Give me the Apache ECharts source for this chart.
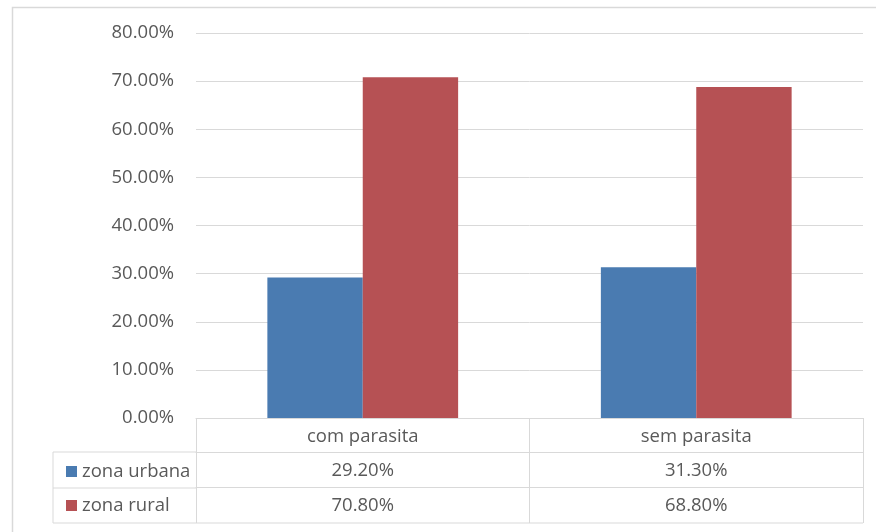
<!DOCTYPE html>
<html>
<head>
<meta charset="utf-8">
<script src="https://cdn.jsdelivr.net/npm/echarts@6/dist/echarts.min.js"></script>
<style>
  html, body { margin: 0; padding: 0; background: #fff; }
  #chart { width: 876px; height: 532px; }
</style>
</head>
<body>
<div id="chart"></div>
<script>
const categories = ['com parasita', 'sem parasita'];
const seriesNames = ['zona urbana', 'zona rural'];
const urbana = [29.2, 31.3];
const rural = [70.8, 68.8];
const colors = ['#4a7bb1', '#b65154'];

const font = 'Open Sans';
const fontSize = 18.5;
const textColor = '#595959';
const lineColor = '#d9d9d9';

// grid + table layout
const gridLeft = 196;
const gridRight = 13;
const gridTop = 33;
const gridBottom = 114;
const rowH = 35;
const tableLeft = 53;
const axisY = 532 - gridBottom;

const chart = echarts.init(document.getElementById('chart'));

const pct = (v) => v.toFixed(2) + '%';

// one extra category axis per table row, offset below the main axis
const rowAxis = (values, i) => ({
  type: 'category',
  data: categories,
  position: 'bottom',
  offset: rowH * (i + 1) - 1,
  axisLine: { show: true, lineStyle: { color: lineColor } },
  axisTick: { show: false },
  axisLabel: {
    interval: 0,
    margin: 9,
    color: textColor,
    fontFamily: font,
    fontSize: fontSize,
    formatter: (v, idx) => pct(values[idx])
  }
});

const tableLines = [];
for (let r = 1; r <= 3; r++) {
  const y = axisY + rowH * r - (r === 1 ? 1 : 0);
  tableLines.push({
    type: 'line',
    shape: { x1: tableLeft, y1: y, x2: r === 3 ? 876 - gridRight : gridLeft, y2: y },
    style: { stroke: lineColor, lineWidth: 1 }
  });
}
tableLines.push({
  type: 'line',
  shape: { x1: tableLeft, y1: axisY + rowH - 1, x2: tableLeft, y2: axisY + rowH * 3 },
  style: { stroke: lineColor, lineWidth: 1 }
});

const option = {
  animation: false,
  color: colors,
  grid: { left: gridLeft, right: gridRight, top: gridTop, bottom: gridBottom },
  legend: {
    orient: 'vertical',
    left: 61,
    top: 457,
    itemWidth: 11,
    itemHeight: 11,
    itemGap: 15,
    icon: 'rect',
    textStyle: { color: textColor, fontFamily: font, fontSize: fontSize },
    data: seriesNames
  },
  xAxis: [
    {
      type: 'category',
      data: categories,
      position: 'bottom',
      axisLine: { show: true, lineStyle: { color: lineColor } },
      axisTick: { show: true, length: rowH * 3, interval: 0, lineStyle: { color: lineColor } },
      axisLabel: { interval: 0, margin: 9, color: textColor, fontFamily: font, fontSize: fontSize }
    },
    rowAxis(urbana, 0),
    rowAxis(rural, 1)
  ],
  yAxis: {
    type: 'value',
    min: 0,
    max: 80,
    interval: 10,
    axisLine: { show: false },
    axisTick: { show: false },
    splitLine: { lineStyle: { color: lineColor } },
    axisLabel: {
      margin: 22,
      color: textColor,
      fontFamily: font,
      fontSize: fontSize,
      formatter: (v) => pct(v)
    }
  },
  series: [
    { name: seriesNames[0], type: 'bar', data: urbana, barWidth: '28.6%', barGap: '0%' },
    { name: seriesNames[1], type: 'bar', data: rural, barWidth: '28.6%', barGap: '0%' }
  ],
  graphic: [
    {
      type: 'rect',
      shape: { x: 12.5, y: 7.5, width: 1000, height: 1000 },
      style: { fill: 'none', stroke: lineColor, lineWidth: 1.5 },
      z: -1
    },
    ...tableLines
  ]
};

chart.setOption(option);
</script>
</body>
</html>
